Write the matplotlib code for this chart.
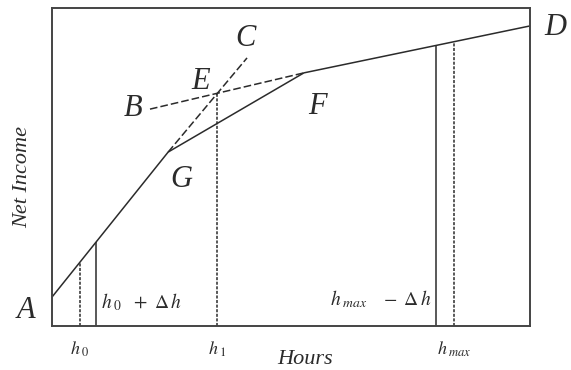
import numpy as np
import matplotlib.pyplot as plt

plt.rcParams['mathtext.fontset'] = 'stix'

# income curve A - G - F - D (hours, net income)
curve_x = [0.0, 24.3, 52.7, 99.8]
curve_y = [9.1, 54.7, 79.6, 94.3]

# dashed extension of the first segment: G -> C
ext_x = [24.3, 40.8]
ext_y = [54.7, 84.3]

# dashed line B -> E -> F
b_x = [20.5, 52.7]
b_y = [68.2, 79.6]

# hours marked on the axis
h0, h0_dh, h1, hmax_dh, hmax = 5.9, 9.2, 34.5, 80.3, 84.1
e_y = 73.3

ink = '#2b2b2b'
serif = 'Liberation Serif'

fig = plt.figure(figsize=(5.71, 3.70), dpi=100)
ax = fig.add_axes([52 / 571, 1 - 326 / 370, 478 / 571, 318 / 370])
ax.set_xlim(0, 100)
ax.set_ylim(0, 100)

ax.plot(curve_x, curve_y, color=ink, lw=1.1)
ax.plot(ext_x, ext_y, color=ink, lw=1.1, ls=(0, (5, 2)))
ax.plot(b_x, b_y, color=ink, lw=1.1, ls=(0, (5, 2)))

# vertical markers up to the curve
top = lambda h: np.interp(h, curve_x, curve_y)
ax.vlines(h0, 0, top(h0), color=ink, lw=1.1, ls=(0, (2, 1)))
ax.vlines(h0_dh, 0, top(h0_dh), color=ink, lw=1.1)
ax.vlines(h1, 0, e_y, color=ink, lw=1.1, ls=(0, (2, 1)))
ax.vlines(hmax_dh, 0, top(hmax_dh), color=ink, lw=1.1)
ax.vlines(hmax, 0, top(hmax), color=ink, lw=1.1, ls=(0, (2, 1)))

for s in ax.spines.values():
    s.set_color('#444444')
    s.set_linewidth(1.4)

ax.set_xticks([h0, h1, hmax])
ax.set_xticklabels([r'$h_{\;0}$', r'$h_{\;1}$', r'$h_{\;max}$'], fontsize=13, color=ink)
ax.tick_params(axis='x', length=0, pad=10)
ax.set_yticks([])

ax.set_xlabel('Hours', fontsize=16, fontfamily=serif, style='italic', color=ink)
ax.xaxis.set_label_coords(0.529, -0.075)
ax.set_ylabel('Net Income', fontsize=16, fontfamily=serif, style='italic', color=ink)
ax.yaxis.set_label_coords(-0.042, 0.47)

lbl = dict(fontsize=22, fontfamily=serif, style='italic', color=ink, clip_on=False)
ax.text(-3.5, 5, 'A', ha='right', va='center', **lbl)
ax.text(19, 68.5, 'B', ha='right', va='center', **lbl)
ax.text(40.5, 90.5, 'C', ha='center', va='center', **lbl)
ax.text(103, 94, 'D', ha='left', va='center', **lbl)
ax.text(31, 77, 'E', ha='center', va='center', **lbl)
ax.text(55.5, 69, 'F', ha='center', va='center', **lbl)
ax.text(27, 46, 'G', ha='center', va='center', **lbl)

ax.text(10.3, 7.5, r'$h_{\;0}\ \ +\ \Delta\, h$', fontsize=14, color=ink, va='center')
ax.text(79.4, 8.5, r'$h_{\;max}\ \ \ -\ \Delta\, h$', fontsize=14, color=ink, va='center', ha='right')

fig.savefig('out.png', dpi=100)
